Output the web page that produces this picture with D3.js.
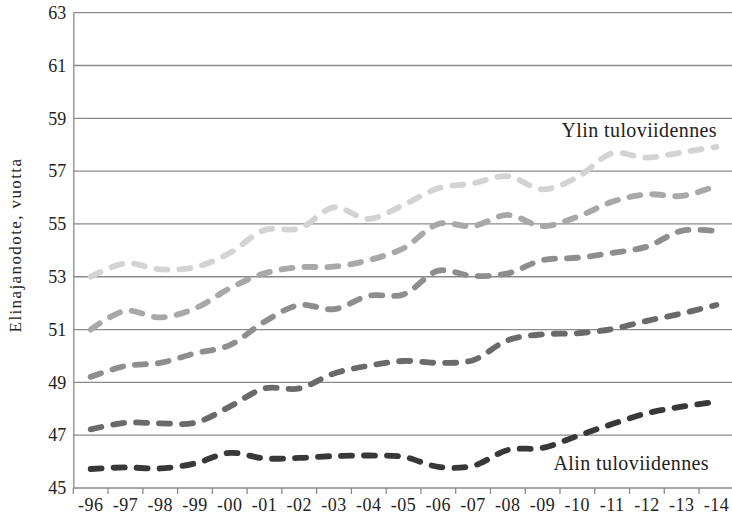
<!DOCTYPE html>
<html><head><meta charset="utf-8">
<script src="https://cdn.jsdelivr.net/npm/d3@7/dist/d3.min.js"></script>
<style>
html,body{margin:0;padding:0;background:#fff;}
text{font-family:"Liberation Serif","DejaVu Serif",serif;fill:#222;}
</style></head>
<body><svg id="c" width="732" height="514"></svg>
<script>
const years = ["-96","-97","-98","-99","-00","-01","-02","-03","-04","-05","-06","-07","-08","-09","-10","-11","-12","-13","-14"];
const q1 = [45.72,45.78,45.74,45.93,46.33,46.12,46.14,46.21,46.23,46.18,45.80,45.84,46.44,46.52,46.97,47.42,47.83,48.08,48.26];
const q2 = [47.22,47.47,47.45,47.47,48.08,48.77,48.77,49.34,49.63,49.81,49.74,49.84,50.60,50.82,50.86,51.02,51.33,51.61,51.93];
const q3 = [49.21,49.62,49.74,50.10,50.41,51.30,51.93,51.77,52.28,52.33,53.23,53.03,53.13,53.63,53.72,53.90,54.14,54.74,54.73];
const q4 = [51.00,51.71,51.46,51.80,52.56,53.13,53.36,53.38,53.63,54.08,55.00,54.92,55.34,54.92,55.27,55.84,56.12,56.06,56.44];
const q5 = [53.00,53.51,53.28,53.36,53.90,54.77,54.83,55.63,55.19,55.72,56.35,56.54,56.81,56.31,56.77,57.67,57.51,57.71,57.92];
const yTicks = [45,47,49,51,53,55,57,59,61,63];
const series = [q1,q2,q3,q4,q5];
const colors = ["#383838","#6a6a6a","#8e8e8e","#a8a8a8","#d3d3d3"];
const labelTop = "Ylin tuloviidennes";
const labelBottom = "Alin tuloviidennes";
const yTitle = "Elinajanodote, vuotta";

(function(){
const svg = d3.select("#c");
const mLeft = 73.3, mRight = 733.8, mTop = 12.7, mBottom = 488;
const x = d3.scaleBand().domain(years).range([mLeft, mRight]).padding(0);
const y = d3.scaleLinear().domain([45,63]).range([mBottom, mTop]);

svg.append("g").selectAll("line").data(yTicks).join("line")
  .attr("x1", mLeft).attr("x2", 732).attr("y1", d=>y(d)).attr("y2", d=>y(d))
  .attr("stroke", "#8a8a8a").attr("stroke-width", 1.3);

const ya = svg.append("g").attr("transform", `translate(${mLeft},0)`)
  .call(d3.axisLeft(y).tickValues(yTicks).tickSize(0).tickPadding(7));
ya.select(".domain").attr("stroke","#8a8a8a").attr("stroke-width",1.3);
ya.selectAll("text").style("font-family","'Liberation Serif',serif").style("font-size","18px").attr("fill","#222");

const xa = svg.append("g").attr("transform", `translate(0,${mBottom})`)
  .call(d3.axisBottom(x).tickSize(0).tickPadding(10));
xa.select(".domain").remove();
xa.selectAll("text").style("font-family","'Liberation Serif',serif").style("font-size","18px")
  .style("letter-spacing","0.5px").attr("fill","#222");
const bounds = years.map(d=>x(d)).concat([x(years[years.length-1])+x.bandwidth()]);
svg.append("g").selectAll("line").data(bounds).join("line")
  .attr("x1", d=>d).attr("x2", d=>d).attr("y1", mBottom).attr("y2", mBottom+6)
  .attr("stroke","#8a8a8a").attr("stroke-width",1.3);

const line = d3.line()
  .x((d,i)=>x(years[i]) + x.bandwidth()/2)
  .y(d=>y(d))
  .curve(d3.curveCatmullRom.alpha(0.5));
svg.append("g").selectAll("path").data(series).join("path")
  .attr("d", line)
  .attr("fill","none")
  .attr("stroke", (d,i)=>colors[i])
  .attr("stroke-width", 5.8)
  .attr("stroke-linecap","round")
  .attr("stroke-dasharray","11,12");

svg.append("text").attr("x",717).attr("y",136.5).attr("text-anchor","end")
  .style("font-size","20px").style("letter-spacing","0.4px").text(labelTop);
svg.append("text").attr("x",709).attr("y",470).attr("text-anchor","end")
  .style("font-size","20px").style("letter-spacing","0.4px").text(labelBottom);
svg.append("text").attr("transform",`translate(21,245) rotate(-90)`)
  .attr("text-anchor","middle").style("font-size","17px").style("letter-spacing","1.4px").text(yTitle);
})();
</script></body></html>
